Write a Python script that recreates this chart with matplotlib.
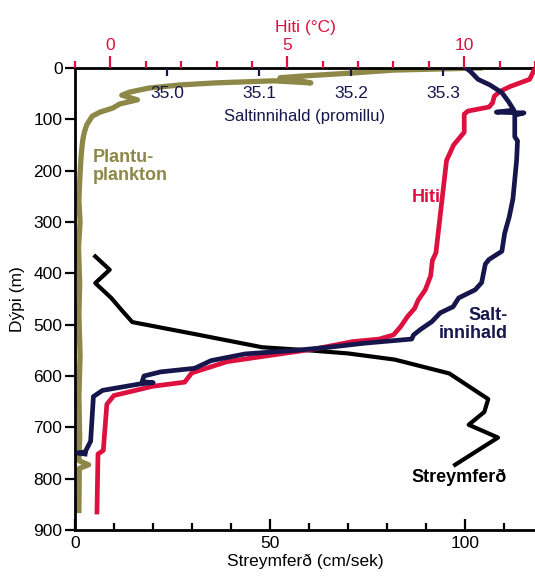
import numpy as np
import matplotlib
matplotlib.use("Agg")
import matplotlib.pyplot as plt
from matplotlib.ticker import MultipleLocator

plt.rcParams['font.family'] = ['Liberation Sans', 'DejaVu Sans']

RED = '#DD1040'
NAVY = '#16164C'
OLIVE = '#8D8848'

# depth profiles (m)
# Streymferd, current speed (cm/sek)
speed = [5.2, 8.9, 5.2, 9.3, 12, 14.7, 30.5, 48, 60, 70, 82, 96, 106, 105, 101, 108.5, 97.5]
speed_depth = [367, 393, 419, 448, 472, 495, 518, 544, 550, 556, 568, 595, 645, 670, 695, 720, 773]

# Hiti, temperature (C)
temp = [12.0, 11.85, 11.3, 11.0, 10.85, 10.8, 10.7, 10.1, 10.0, 10.0, 9.7, 9.5, 9.4, 9.3,
        9.2, 9.1, 9.05, 8.9, 8.7, 8.6, 8.4, 8.2, 8.0, 7.6, 6.85, 5.8, 4.7, 3.3, 2.3, 2.1,
        1.2, 0.1, -0.1, -0.2, -0.35, -0.38]
temp_depth = [0, 22, 36, 46, 55, 68, 76, 84, 90, 125, 150, 180, 240, 300,
              360, 375, 405, 432, 452, 468, 484, 504, 520, 528, 533, 547, 558, 572, 594, 612,
              620, 638, 655, 745, 752, 865]

# Saltinnihald, salinity (promill)
salt = [35.325, 35.33, 35.338, 35.351, 35.364, 35.371, 35.377, 35.358, 35.388, 35.378,
        35.378, 35.381, 35.38, 35.376, 35.372, 35.367, 35.364, 35.35, 35.346, 35.342,
        35.335, 35.317, 35.311, 35.297, 35.288, 35.275, 35.268, 35.266, 35.215, 35.176,
        35.14, 35.085, 35.048, 35.03, 34.993, 34.975, 34.973, 34.985, 34.972, 34.93,
        34.92, 34.917, 34.911, 34.903, 34.911]
salt_depth = [0, 7, 22, 33, 48, 65, 82, 86, 87.5, 92,
              134, 142, 180, 255, 290, 322, 357, 373, 382, 418,
              432, 448, 465, 477, 494, 510, 520, 528, 536, 544,
              550, 557, 570, 585, 592, 600, 611, 613, 615, 628,
              640, 727, 748, 750, 752]

# Plantusvif, phytoplankton (relative, on the speed scale)
plankton = [104, 82, 70.5, 57.7, 52.6, 56, 60.5, 51, 36, 27, 19, 14, 12, 16, 11.5, 9.7,
            6.4, 4.4, 3.0, 2.4, 2.0, 1.7, 1.5, 1.2, 1.0, 1.3, 0.9, 1.2, 1.0, 1.3, 1.0,
            1.2, 1.0, 3.5, 1.1, 1.0]
plankton_depth = [0, 4, 10, 16, 19, 23, 29, 25, 29, 33, 39, 47, 53, 62, 70, 78,
                  86, 94, 111, 125, 140, 160, 179, 220, 257, 300, 350, 420, 480, 560, 640,
                  720, 765, 773, 780, 862]

FS = 12.5

fig = plt.figure(figsize=(5.35, 5.78), dpi=100)
ax = fig.add_axes([75 / 535, 48 / 578, 460 / 535, 462 / 578])

ax.plot(plankton, plankton_depth, color=OLIVE, lw=3.8, zorder=2)
ax.plot(speed, speed_depth, color='black', lw=3.0, zorder=5)

ax.set_xlim(0, 118)
ax.set_ylim(900, 0)
ax.xaxis.set_major_locator(MultipleLocator(50))
ax.xaxis.set_minor_locator(MultipleLocator(10))
ax.yaxis.set_major_locator(MultipleLocator(100))
ax.tick_params(axis='x', which='major', direction='in', length=8, width=1.6, labelsize=FS, pad=4)
ax.tick_params(axis='x', which='minor', direction='in', length=5, width=1.6)
ax.tick_params(axis='y', direction='out', length=7, width=1.6, labelsize=FS, pad=2)
for s in ['left', 'bottom', 'top']:
    ax.spines[s].set_linewidth(2)
ax.spines['right'].set_visible(False)
ax.set_xlabel('Streymferð (cm/sek)', fontsize=FS, labelpad=2)
ax.set_ylabel('Dýpi (m)', fontsize=FS, labelpad=6)

# temperature axis on top
axt = ax.twiny()
axt.plot(temp, temp_depth, color=RED, lw=3.4, zorder=3)
axt.set_xlim(-1, 12)
axt.xaxis.set_major_locator(MultipleLocator(5))
axt.xaxis.set_minor_locator(MultipleLocator(1))
axt.tick_params(axis='x', which='major', direction='out', length=9, width=1.6,
                colors=RED, labelsize=FS, pad=2)
axt.tick_params(axis='x', which='minor', direction='out', length=5, width=1.6, colors=RED)
axt.set_xlabel('Hiti (°C)', color=RED, fontsize=FS, labelpad=4)
for s in axt.spines.values():
    s.set_visible(False)

# salinity axis, ticks and labels inside the top
axs = ax.twiny()
axs.plot(salt, salt_depth, color=NAVY, lw=3.4, zorder=4)
axs.set_xlim(34.9, 35.4)
axs.set_xticks([35.0, 35.1, 35.2, 35.3])
axs.xaxis.set_major_formatter(matplotlib.ticker.FormatStrFormatter('%.1f'))
axs.tick_params(axis='x', direction='in', length=6, width=1.6, colors=NAVY,
                labelsize=FS, pad=-24)
axs.set_xlabel('Saltinnihald (promillu)', color=NAVY, fontsize=12)
axs.xaxis.set_label_coords(0.5, 0.886)
for s in axs.spines.values():
    s.set_visible(False)

# curve names
fig.text(93 / 535, 1 - 149 / 578, 'Plantu-\nplankton', color=OLIVE, fontsize=13,
         fontweight='bold', va='top', ha='left', linespacing=1.1)
fig.text(441 / 535, 1 - 197 / 578, 'Hiti', color=RED, fontsize=13,
         fontweight='bold', va='center', ha='right')
fig.text(508 / 535, 1 - 307 / 578, 'Salt-\ninnihald', color=NAVY, fontsize=13,
         fontweight='bold', va='top', ha='right', multialignment='right', linespacing=1.1)
fig.text(411 / 535, 1 - 477 / 578, 'Streymferð', color='black', fontsize=13,
         fontweight='bold', va='center', ha='left')

fig.savefig('out.png', dpi=100)
